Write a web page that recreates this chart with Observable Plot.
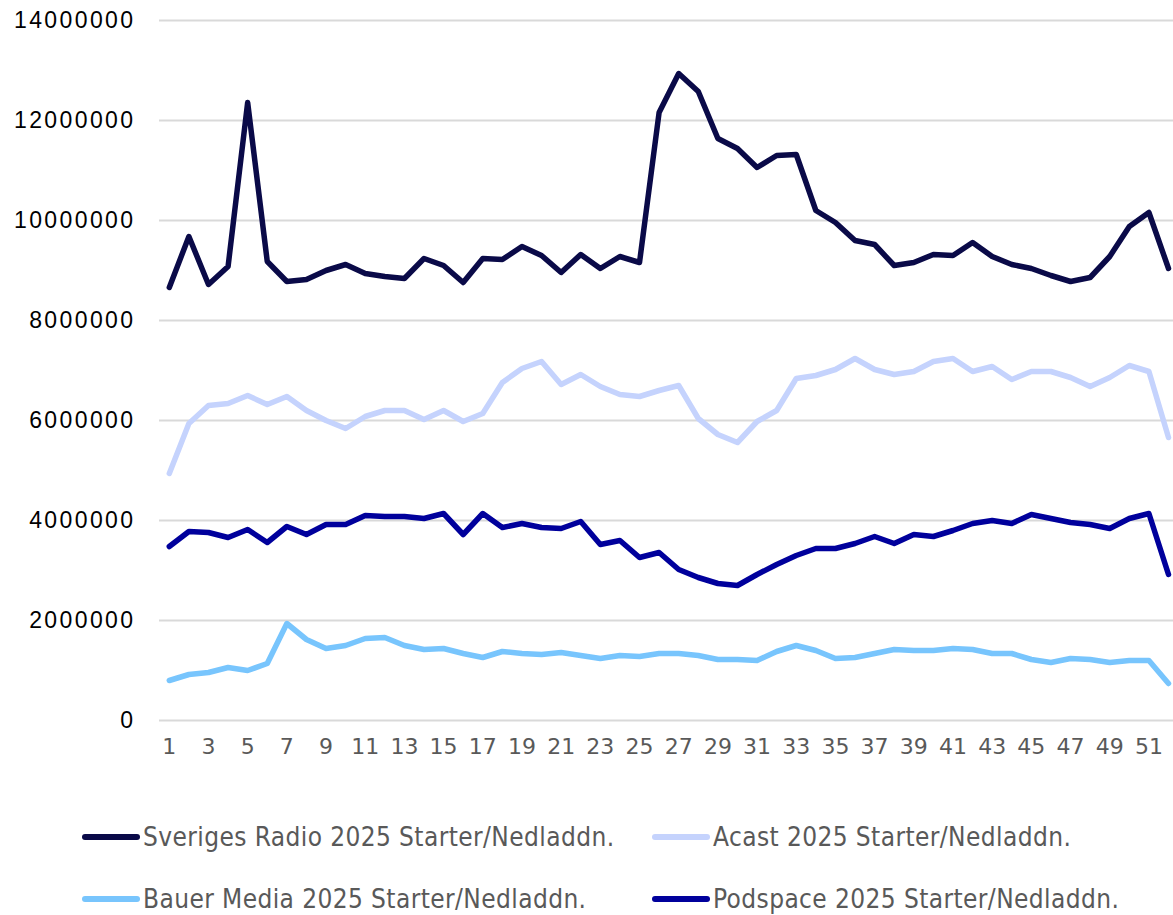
<!DOCTYPE html>
<html>
<head>
<meta charset="utf-8">
<script src="https://cdn.jsdelivr.net/npm/d3@7"></script>
<script src="https://cdn.jsdelivr.net/npm/@observablehq/plot@0.6"></script>
<style>
  body { margin: 0; background: #fff; }
  #wrap { position: relative; width: 1173px; height: 915px; }
  #legend { position: absolute; left: 0; top: 770px; width: 1173px; height: 145px; }
  .item { position: absolute; display: flex; align-items: center; font-family: "DejaVu Sans Condensed", "DejaVu Sans", sans-serif; font-size: 26px; letter-spacing: 0.4px; color: #595959; white-space: nowrap; }
  .sw { width: 58px; height: 6px; border-radius: 3px; margin-right: 3px; }
</style>
</head>
<body>
<div id="wrap">
  <div id="chart"></div>
  <div id="legend"></div>
</div>
<script>
const weeks = d3.range(1, 53);
const seriesNames = [
  "Sveriges Radio 2025 Starter/Nedladdn.",
  "Acast 2025 Starter/Nedladdn.",
  "Bauer Media 2025 Starter/Nedladdn.",
  "Podspace 2025 Starter/Nedladdn."
];
const seriesColors = ["#0a0a48", "#c5d3fd", "#78c5fd", "#00009c"];
const sverigesRadio = [8660000, 9680000, 8720000, 9080000, 12360000, 9180000, 8780000, 8820000, 9000000, 9120000,
  8940000, 8880000, 8840000, 9240000, 9100000, 8760000, 9240000, 9220000, 9480000, 9300000,
  8960000, 9320000, 9040000, 9280000, 9160000, 12160000, 12940000, 12580000, 11640000, 11440000,
  11060000, 11300000, 11320000, 10200000, 9960000, 9600000, 9520000, 9100000, 9160000, 9320000,
  9300000, 9560000, 9280000, 9120000, 9040000, 8900000, 8780000, 8860000, 9280000, 9880000,
  10160000, 9040000];
const acast = [4940000, 5940000, 6300000, 6340000, 6500000, 6320000, 6480000, 6200000, 6000000, 5840000,
  6080000, 6200000, 6200000, 6020000, 6200000, 5980000, 6140000, 6760000, 7040000, 7180000,
  6720000, 6920000, 6680000, 6520000, 6480000, 6600000, 6700000, 6040000, 5720000, 5560000,
  5980000, 6200000, 6840000, 6900000, 7020000, 7240000, 7020000, 6920000, 6980000, 7180000,
  7240000, 6980000, 7080000, 6820000, 6980000, 6980000, 6860000, 6680000, 6860000, 7100000,
  6980000, 5660000];
const bauerMedia = [800000, 920000, 960000, 1060000, 1000000, 1140000, 1940000, 1620000, 1440000, 1500000,
  1640000, 1660000, 1500000, 1420000, 1440000, 1340000, 1260000, 1380000, 1340000, 1320000,
  1360000, 1300000, 1240000, 1300000, 1280000, 1340000, 1340000, 1300000, 1220000, 1220000,
  1200000, 1380000, 1500000, 1400000, 1240000, 1260000, 1340000, 1420000, 1400000, 1400000,
  1440000, 1420000, 1340000, 1340000, 1220000, 1160000, 1240000, 1220000, 1160000, 1200000,
  1200000, 740000];
const podspace = [3480000, 3780000, 3760000, 3660000, 3820000, 3560000, 3880000, 3720000, 3920000, 3920000,
  4100000, 4080000, 4080000, 4040000, 4140000, 3720000, 4140000, 3860000, 3940000, 3860000,
  3840000, 3980000, 3520000, 3600000, 3260000, 3360000, 3020000, 2860000, 2740000, 2700000,
  2920000, 3120000, 3300000, 3440000, 3440000, 3540000, 3680000, 3540000, 3720000, 3680000,
  3800000, 3940000, 4000000, 3940000, 4120000, 4040000, 3960000, 3920000, 3840000, 4040000,
  4140000, 2920000];
const yTicks = d3.range(0, 14000001, 2000000);
const xTicks = d3.range(1, 52, 2);

const seriesValues = [sverigesRadio, acast, bauerMedia, podspace];
const data = [];
seriesValues.forEach((vals, i) => vals.forEach((v, j) => data.push({series: seriesNames[i], week: weeks[j], value: v})));

const chart = Plot.plot({
  width: 1173,
  height: 770,
  marginLeft: 159,
  marginRight: 0,
  marginTop: 20,
  marginBottom: 50,
  style: {background: "#fff", overflow: "visible"},
  x: {domain: [0.5, 52.255], label: null},
  y: {domain: [0, 14000000], label: null},
  color: {domain: seriesNames, range: seriesColors},
  marks: [
    Plot.ruleY(yTicks, {stroke: "#d9d9d9", strokeWidth: 2}),
    Plot.axisY({ticks: yTicks, tickSize: 0, tickPadding: 24, tickFormat: d => String(d), label: null,
      fontSize: 23, fill: "#000", fontFamily: "Liberation Sans, Arial, sans-serif"}),
    Plot.axisX({ticks: xTicks, tickSize: 0, tickPadding: 18, tickFormat: d => String(d), label: null,
      fontSize: 22, fill: "#595959", fontFamily: "DejaVu Sans, Verdana, sans-serif"}),
    Plot.lineY(data, {x: "week", y: "value", z: "series", stroke: "series", strokeWidth: 5.5, strokeLinejoin: "round", strokeLinecap: "round"})
  ]
});
d3.select(chart).selectAll('g[aria-label="y-axis tick label"] text').style("letter-spacing", "2.4px");
d3.select(chart).selectAll('g[aria-label="x-axis tick label"] text').style("font-stretch", "normal");
document.getElementById("chart").appendChild(chart);

const legendPos = [[82, 68], [652, 68], [82, 130], [652, 130]];
const legend = document.getElementById("legend");
seriesNames.forEach((name, i) => {
  const it = document.createElement("div");
  it.className = "item";
  it.style.left = legendPos[i][0] + "px";
  it.style.top = (legendPos[i][1] - 16) + "px";
  const sw = document.createElement("span");
  sw.className = "sw";
  sw.style.background = seriesColors[i];
  const tx = document.createElement("span");
  tx.textContent = name;
  it.appendChild(sw);
  it.appendChild(tx);
  legend.appendChild(it);
});
</script>
</body>
</html>
